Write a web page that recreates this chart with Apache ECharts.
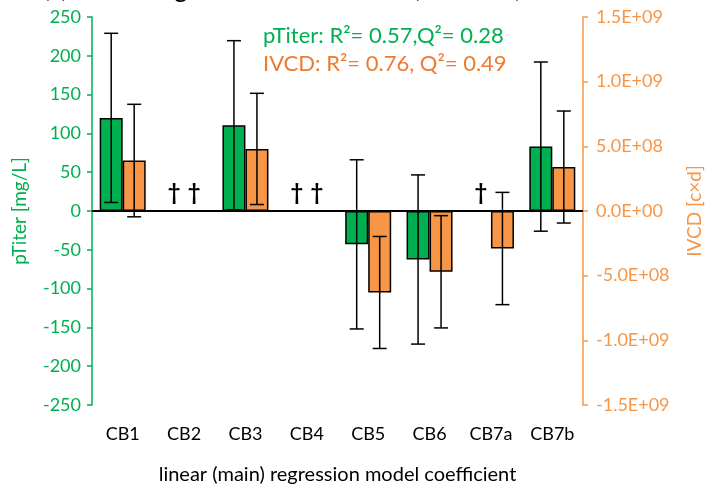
<!DOCTYPE html>
<html>
<head>
<meta charset="utf-8">
<script src="https://cdn.jsdelivr.net/npm/echarts@6/dist/echarts.min.js"></script>
<style>
  html, body { margin: 0; padding: 0; background: #fff; }
  #chart { width: 712px; height: 490px; }
</style>
</head>
<body>
<div id="chart"></div>
<script>
// Coefficients of the linear (main) regression model, with their error margins.
// null = term not in the model (drawn as a dagger).
const categories = ['CB1', 'CB2', 'CB3', 'CB4', 'CB5', 'CB6', 'CB7a', 'CB7b'];
const pTiterCoef = [120, null, 110.5, null, -43, -62.5, null, 83];
const pTiterErr  = [109, null, 109, null, 109, 109, null, 109];
const ivcdCoef   = [3.9e8, null, 4.8e8, null, -6.3e8, -4.7e8, -2.9e8, 3.4e8];
const ivcdErr    = [4.35e8, null, 4.3e8, null, 4.33e8, 4.34e8, 4.34e8, 4.33e8];
const leftTicks  = [-250, 250, 50];
const rightTicks = [-1.5e9, 1.5e9, 5e8];

const GREEN = '#00B050';
const ORANGE = '#F79646';
const ORANGE_TEXT = '#EE7B30';
const FONT = 'Lato';
const BAR_W = 23;

function sci(v) {
  if (Math.abs(v) < 1e-6) return '0.0E+00';
  const e = Math.floor(Math.log10(Math.abs(v)) + 1e-9);
  const m = (v / Math.pow(10, e)).toFixed(1);
  const es = (e < 0 ? '-' : '+') + String(Math.abs(e)).padStart(2, '0');
  return m + 'E' + es;
}

function errData(vals, errs) {
  const out = [];
  vals.forEach((v, i) => { if (v !== null) out.push([i, v, errs[i]]); });
  return out;
}
function missingData(vals) {
  const out = [];
  vals.forEach((v, i) => { if (v === null) out.push([i, 0]); });
  return out;
}

function errorBarRenderer(offset) {
  return function (params, api) {
    const i = api.value(0), v = api.value(1), e = api.value(2);
    const top = api.coord([i, v + e]);
    const bot = api.coord([i, v - e]);
    const x = top[0] + offset;
    const cap = 7;
    const style = { stroke: '#000', lineWidth: 1.5 };
    return {
      type: 'group',
      children: [
        { type: 'line', shape: { x1: x, y1: top[1], x2: x, y2: bot[1] }, style },
        { type: 'line', shape: { x1: x - cap, y1: top[1], x2: x + cap, y2: top[1] }, style },
        { type: 'line', shape: { x1: x - cap, y1: bot[1], x2: x + cap, y2: bot[1] }, style }
      ]
    };
  };
}
function daggerRenderer(offset) {
  return function (params, api) {
    const p = api.coord([api.value(0), 0]);
    return {
      type: 'text',
      x: p[0] + offset,
      y: p[1] - 18,
      style: {
        text: '\u2020', fill: '#000', font: 'bold 22px ' + FONT,
        align: 'center', verticalAlign: 'middle'
      }
    };
  };
}

const chart = echarts.init(document.getElementById('chart'), null, { width: 712, height: 490 });
chart.setOption({
  animation: false,
  textStyle: { fontFamily: FONT },
  grid: { left: 92, width: 500, top: 17, height: 400, containLabel: false },
  graphic: [
    {
      type: 'text', left: 43, top: -24,
      style: { text: '(c) Linear regression coefficients (Round 1)', font: '26px ' + FONT, fill: '#000' }
    },
    {
      type: 'text', left: 263, top: 25,
      style: { text: 'pTiter: R\u00B2= 0.57,Q\u00B2= 0.28', font: '22px ' + FONT, fill: GREEN }
    },
    {
      type: 'text', left: 263, top: 53,
      style: { text: 'IVCD: R\u00B2= 0.76, Q\u00B2= 0.49', font: '22px ' + FONT, fill: ORANGE_TEXT }
    }
  ],
  xAxis: {
    type: 'category',
    data: categories,
    axisLine: { show: false },
    axisTick: { show: false },
    axisLabel: { color: '#000', fontSize: 18, margin: 20, fontFamily: FONT },
    name: 'linear (main) regression model coefficient',
    nameLocation: 'middle',
    nameGap: 60,
    nameTextStyle: { color: '#000', fontSize: 20, fontFamily: FONT },
    splitLine: { show: false }
  },
  yAxis: [
    {
      type: 'value',
      min: leftTicks[0], max: leftTicks[1], interval: leftTicks[2],
      position: 'left',
      axisLine: { show: true, lineStyle: { color: GREEN, width: 1.5 } },
      axisTick: { show: true, inside: false, length: 5, lineStyle: { color: GREEN, width: 1.5 } },
      axisLabel: { color: GREEN, fontSize: 18, margin: 11, fontFamily: FONT },
      splitLine: { show: false },
      name: 'pTiter [mg/L]',
      nameLocation: 'middle',
      nameGap: 63,
      nameRotate: 90,
      nameTextStyle: { color: GREEN, fontSize: 19, fontFamily: FONT }
    },
    {
      type: 'value',
      min: rightTicks[0], max: rightTicks[1], interval: rightTicks[2],
      position: 'right',
      axisLine: { show: true, lineStyle: { color: ORANGE, width: 1.5 } },
      axisTick: { show: true, inside: false, length: 5, lineStyle: { color: ORANGE, width: 1.5 } },
      axisLabel: { color: ORANGE, fontSize: 18, margin: 13, fontFamily: FONT, formatter: sci },
      splitLine: { show: false },
      name: 'IVCD [c\u00D7d]',
      nameLocation: 'middle',
      nameGap: 102,
      nameRotate: 90,
      nameTextStyle: { color: ORANGE, fontSize: 19, fontFamily: FONT }
    }
  ],
  series: [
    {
      name: 'pTiter', type: 'bar', yAxisIndex: 0,
      data: pTiterCoef, barWidth: BAR_W, barGap: '0%',
      itemStyle: { color: GREEN, borderColor: '#000', borderWidth: 1.5 },
      markLine: {
        silent: true, symbol: 'none', label: { show: false },
        lineStyle: { color: '#000', width: 2, type: 'solid' },
        data: [{ yAxis: 0 }]
      }
    },
    {
      name: 'IVCD', type: 'bar', yAxisIndex: 1,
      data: ivcdCoef, barWidth: BAR_W, barGap: '0%',
      itemStyle: { color: ORANGE, borderColor: '#000', borderWidth: 1.5 }
    },
    {
      type: 'custom', yAxisIndex: 0, z: 10,
      data: errData(pTiterCoef, pTiterErr),
      renderItem: errorBarRenderer(-BAR_W / 2)
    },
    {
      type: 'custom', yAxisIndex: 1, z: 10,
      data: errData(ivcdCoef, ivcdErr),
      renderItem: errorBarRenderer(BAR_W / 2)
    },
    {
      type: 'custom', yAxisIndex: 0, z: 10,
      data: missingData(pTiterCoef),
      renderItem: daggerRenderer(-10)
    },
    {
      type: 'custom', yAxisIndex: 1, z: 10,
      data: missingData(ivcdCoef),
      renderItem: daggerRenderer(10)
    }
  ]
});
</script>
</body>
</html>
